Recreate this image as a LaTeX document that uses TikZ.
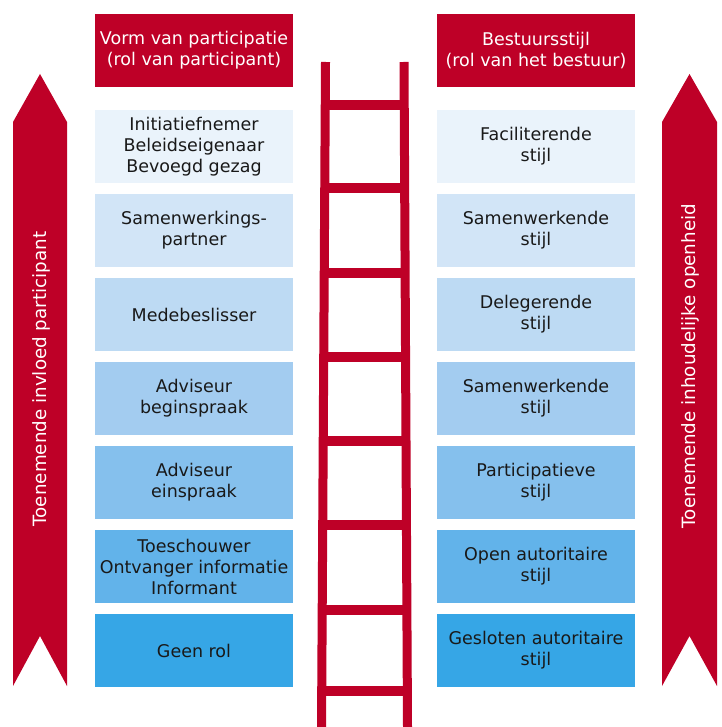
\documentclass[tikz,border=0pt]{standalone}
\usepackage{fontspec}
\setmainfont{DejaVu Sans}
\usepackage{tikz}
\definecolor{ladderred}{HTML}{BE0027}
\definecolor{row1}{HTML}{EAF3FB}
\definecolor{row2}{HTML}{D2E5F7}
\definecolor{row3}{HTML}{BDDAF3}
\definecolor{row4}{HTML}{A3CCF0}
\definecolor{row5}{HTML}{85C0ED}
\definecolor{row6}{HTML}{62B3EA}
\definecolor{row7}{HTML}{36A6E6}
\begin{document}
\begin{tikzpicture}[x = 1pt, y = -1pt, font = \fontsize{17.5}{21}\selectfont,
  rolebox/.style = {minimum width = 198pt, minimum height = 73pt, inner sep = 0pt, align = center, text = black!90},
  headbox/.style = {rolebox, fill = ladderred, text = white},
  arrowtext/.style = {rotate = 90, text = white, font = \fontsize{18.3}{22}\selectfont}]
\useasboundingbox (0, 0) rectangle (721, 727);
% big arrows
\fill[ladderred] (13, 122) -- (40, 74) -- (67, 122) -- (67, 686) -- (40, 636) -- (13, 686) -- cycle;
\fill[ladderred] (662, 122) -- (689.5, 74) -- (717, 122) -- (717, 686) -- (689.5, 636) -- (662, 686) -- cycle;
\node[arrowtext] (invloed) at (41, 379) {Toenemende invloed participant};
\node[arrowtext] (openheid) at (690, 366) {Toenemende inhoudelijke openheid};
% ladder
\draw[ladderred, line width = 9pt] (325.5, 62) -- (321.5, 727);
\draw[ladderred, line width = 9pt] (404, 62) -- (407.5, 727);
\foreach \y in {105, 188.5, 272.5, 356.5, 440.5, 524.5, 609.5, 690.5}{\draw[ladderred, line width = 10pt] (323, \y) -- (406, \y);}
% headers
\node[headbox] (vormkop) at (194, 50.5) {Vorm van participatie\\(rol van participant)};
\node[headbox] (stijlkop) at (536, 50.5) {Bestuursstijl\\(rol van het bestuur)};
% rows
\foreach \txt [count = \i] in {{Initiatiefnemer\\Beleidseigenaar\\Bevoegd gezag}, {Samenwerkings-\\partner}, Medebeslisser, {Adviseur\\beginspraak}, {Adviseur\\einspraak}, {Toeschouwer\\Ontvanger informatie\\Informant}, Geen rol}
  {\node[rolebox, fill = row\i] (vorm\i) at (194, 62.5 + 84 * \i) {\txt};}
\foreach \txt [count = \i] in {Faciliterende, Samenwerkende, Delegerende, Samenwerkende, Participatieve, Open autoritaire, Gesloten autoritaire}
  {\node[rolebox, fill = row\i] (stijl\i) at (536, 62.5 + 84 * \i) {\txt\\stijl};}
\end{tikzpicture}
\end{document}
